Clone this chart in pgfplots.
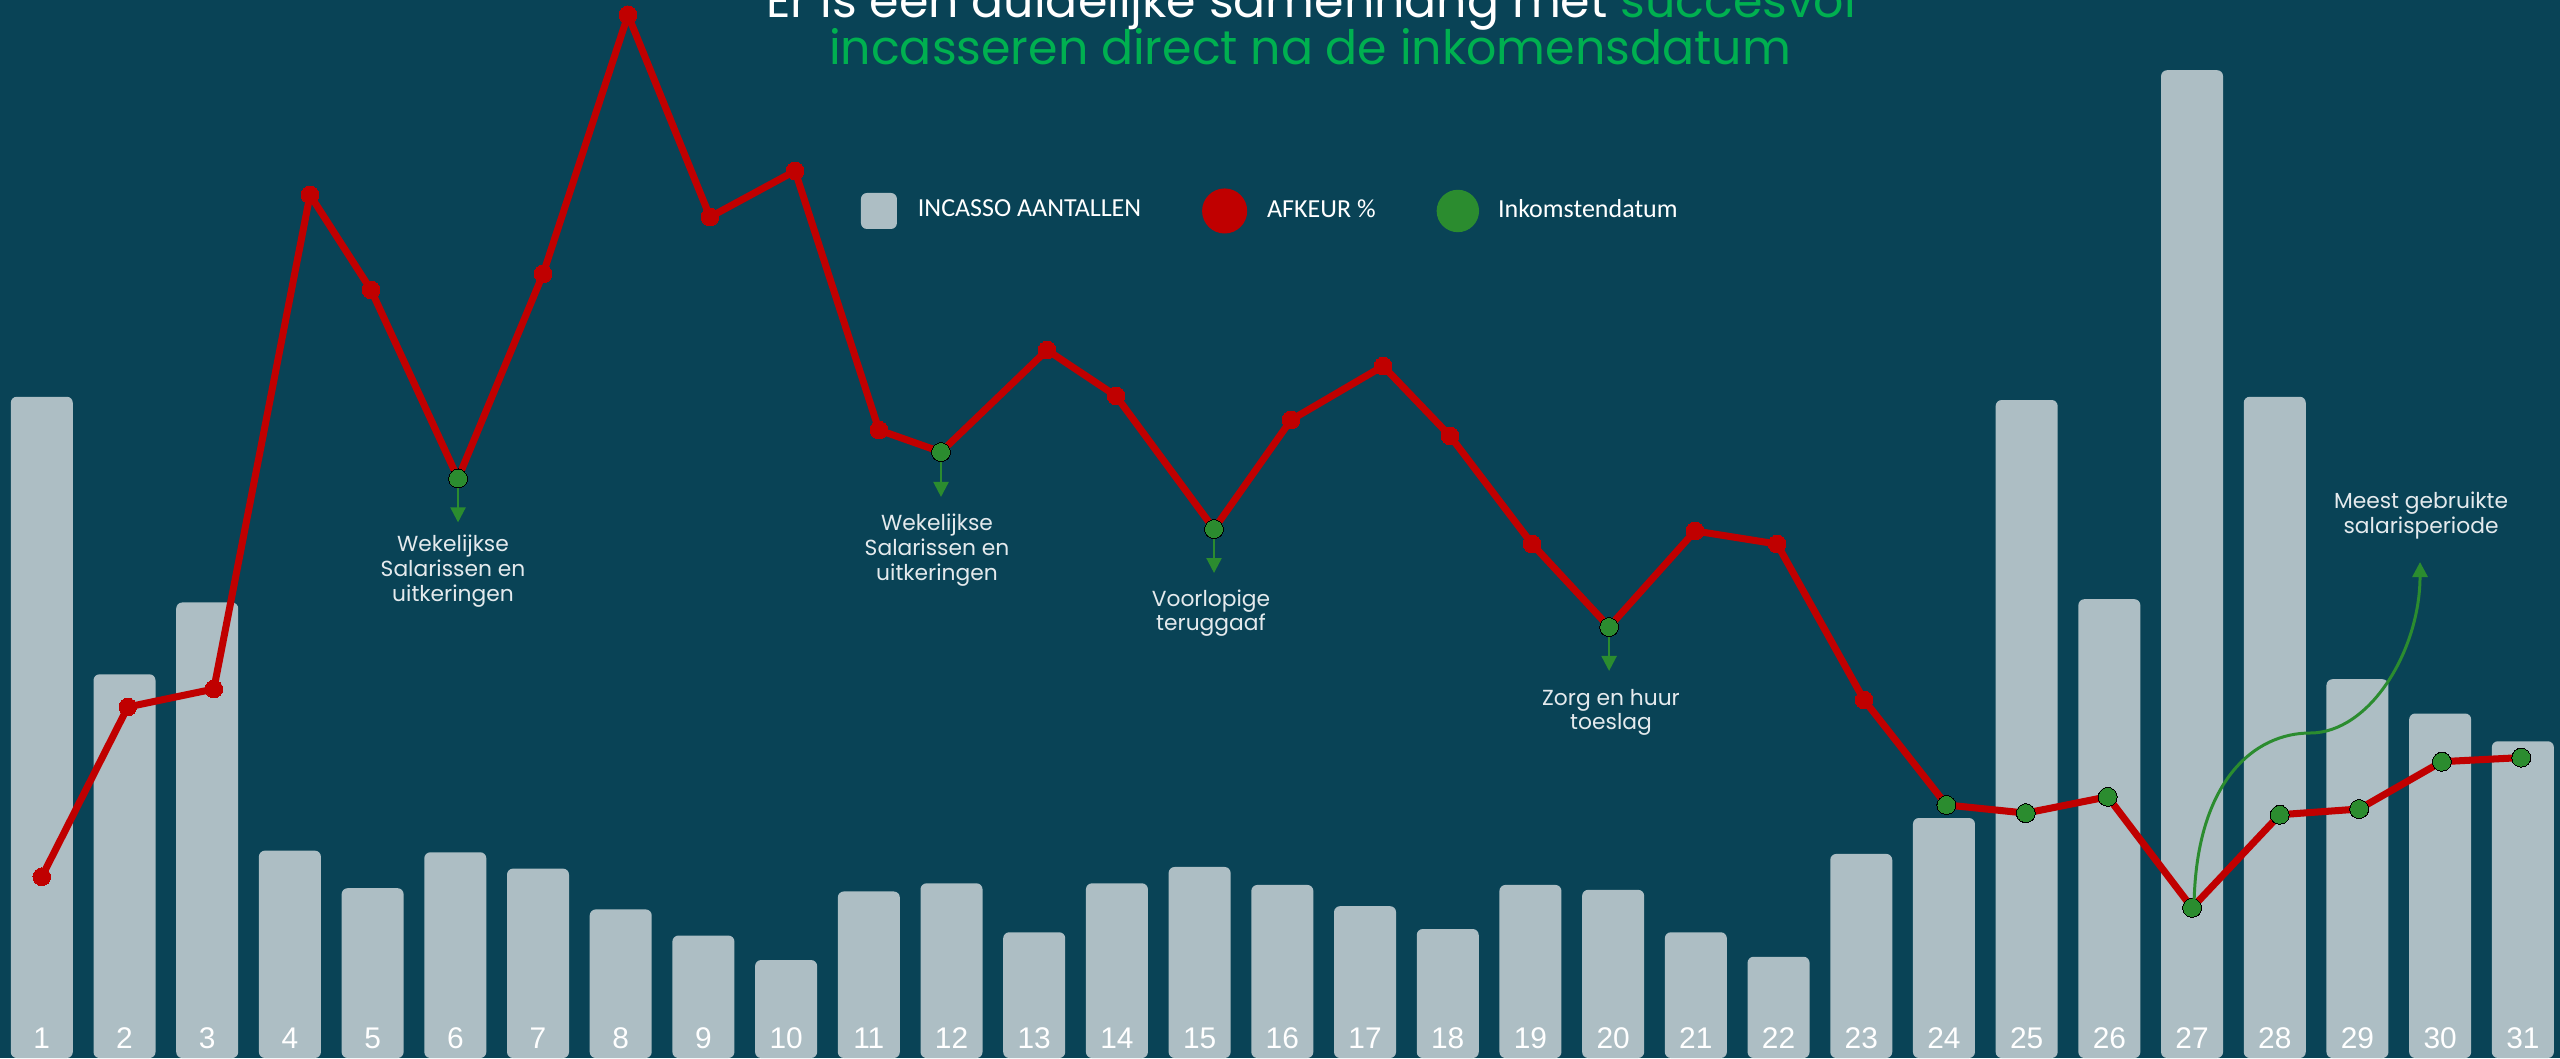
\documentclass[border=0pt]{standalone}
\usepackage{fontspec}
\usepackage{pgfplots}
\pgfplotsset{compat=1.18}
\usepackage{pgfplotstable}
\usetikzlibrary{arrows.meta}
\newfontfamily\poppins{Poppins}
\newfontfamily\carlito{Carlito}
\newfontfamily\arialf{Liberation Sans}
\definecolor{bg}{HTML}{094356}
\definecolor{barcol}{HTML}{ADBEC4}
\definecolor{afred}{HTML}{C00000}
\definecolor{inkgreen}{HTML}{2B8C2F}
\definecolor{titlegreen}{HTML}{00B050}
\definecolor{annot}{HTML}{E4EAED}

\pgfplotstableread{
day count
1 405
2 235
3 279
4 127
5 104
6 126
7 116
8 91
9 75
10 60
11 102
12 107
13 77
14 107
15 117
16 106
17 93
18 79
19 106
20 103
21 77
22 62
23 125
24 147
25 403
26 281
27 605
28 405
29 232
30 211
31 194
}\incasso

\pgfplotstableread{
day afkeur
1.00 111
2.04 215
3.08 226
4.243 528.6
4.981 470.4
6.033 355
7.061 480.2
8.088 638.8
9.080 515.1
10.108 543.3
11.123 384.6
11.873 371.2
13.155 433.6
13.989 405.5
15.174 324
16.105 390.8
17.218 423.8
18.028 381
19.020 314.8
19.951 264
20.990 322.8
21.982 314.8
23.034 219.3
24.03 155
24.99 150
25.98 160
27.00 92
28.06 149
29.02 152.5
30.02 181.5
30.98 184
}\afkeur

\pgfplotstableread{
day afkeur
6.033 355
11.873 371.2
15.174 324
19.951 264
24.03 155
24.99 150
25.98 160
27.00 92
28.06 149
29.02 152.5
30.02 181.5
30.98 184
}\inkomst

\begin{document}
\begin{tikzpicture}
\fill[bg] (0,0) rectangle (256mm,105.8mm);
\begin{axis}[at={(0,0)}, anchor=south west,
  width=256mm, height=105.8mm, scale only axis,
  xmin=0.4946, xmax=31.449, ymin=0, ymax=648,
  axis on top,
  axis line style={draw=none}, tick style={draw=none},
  ytick=\empty,
  xtick={1,2,...,31},
  xticklabels={1,2,3,4,5,6,7,8,9,10,11,12,13,14,15,16,17,18,19,20,21,22,23,24,25,26,27,28,29,30,31},
  xticklabel style={font=\arialf\fontsize{8.5}{10}\selectfont, text=white, anchor=base, yshift=1mm},
  legend columns=3,
  legend style={at={(0.3363,0.8006)}, anchor=west, draw=none, fill=none,
    inner sep=0pt, outer sep=0pt,
    font=\carlito\fontsize{7.4}{9}\selectfont, text=white,
    nodes={inner sep=0pt},
    /tikz/every even column/.append style={column sep=6.1mm}},
  legend cell align=left,
]
\addplot[ybar, bar width=6.2mm, fill=barcol, draw=none, rounded corners=0.6mm,
  legend image code/.code={\fill[barcol, rounded corners=0.6mm] (0mm,-1.8mm) rectangle (3.6mm,1.8mm); \path (5.7mm,0);}]
  table[x=day, y=count]{\incasso};
\addlegendentry{INCASSO AANTALLEN}
\addplot[afred, line width=2pt, mark=*, mark size=0.88mm, mark options={draw=none, fill=afred, line width=0pt},
  legend image code/.code={\fill[afred] (1.9mm,0) circle (1.9mm); \path (5.8mm,0);}]
  table[x=day, y=afkeur]{\afkeur};
\addlegendentry{AFKEUR \%}
\addplot[only marks, mark=*, mark size=0.95mm, mark options={draw=none, fill=inkgreen, line width=0pt},
  legend image code/.code={\fill[inkgreen] (2.05mm,0) circle (2.05mm); \path (6.0mm,0);}]
  table[x=day, y=afkeur]{\inkomst};
\addlegendentry{Inkomstendatum}
\draw[inkgreen, line width=0.65pt, -{Triangle[width=1.5mm,length=1.5mm]}] (axis cs:6.033,355) -- ([yshift=-4.4mm]axis cs:6.033,355);
\draw[inkgreen, line width=0.65pt, -{Triangle[width=1.5mm,length=1.5mm]}] (axis cs:11.873,371.2) -- ([yshift=-4.5mm]axis cs:11.873,371.2);
\draw[inkgreen, line width=0.65pt, -{Triangle[width=1.5mm,length=1.5mm]}] (axis cs:15.174,324) -- ([yshift=-4.4mm]axis cs:15.174,324);
\draw[inkgreen, line width=0.65pt, -{Triangle[width=1.5mm,length=1.5mm]}] (axis cs:19.951,264) -- ([yshift=-4.4mm]axis cs:19.951,264);
\end{axis}
\begin{scope}[x=0.1mm, y=-0.1mm, shift={(0,105.8mm)}]
\draw[inkgreen, line width=0.85pt, -{Triangle[width=1.5mm,length=1.5mm]}]
  (2194,905) .. controls (2196,780) and (2255,733) .. (2310,733)
  .. controls (2370,733) and (2420,650) .. (2420,562);
\tikzset{ann/.style={anchor=base, inner sep=0pt, text=annot, font=\poppins\fontsize{6.2}{7}\selectfont}}
\node[ann] at (453,551) {Wekelijkse};
\node[ann] at (453,576) {Salarissen en};
\node[ann] at (453,601) {uitkeringen};
\node[ann] at (937,530) {Wekelijkse};
\node[ann] at (937,555) {Salarissen en};
\node[ann] at (937,580) {uitkeringen};
\node[ann] at (1211,606) {Voorlopige};
\node[ann] at (1211,630) {teruggaaf};
\node[ann] at (1611,705) {Zorg en huur};
\node[ann] at (1611,729) {toeslag};
\node[ann] at (2421,508) {Meest gebruikte};
\node[ann] at (2421,533) {salarisperiode};
\tikzset{ttl/.style={anchor=base, inner sep=0pt, font=\poppins\fontsize{13.5}{15}\selectfont}}
\node[ttl, text=white] at (1311,17) {Er is een duidelijke samenhang met \textcolor{titlegreen}{succesvol}};
\node[ttl, text=titlegreen] at (1310,64) {incasseren direct na de inkomensdatum};
\end{scope}
\pgfresetboundingbox
\path[use as bounding box] (0,0) rectangle (256mm,105.8mm);
\end{tikzpicture}
\end{document}
